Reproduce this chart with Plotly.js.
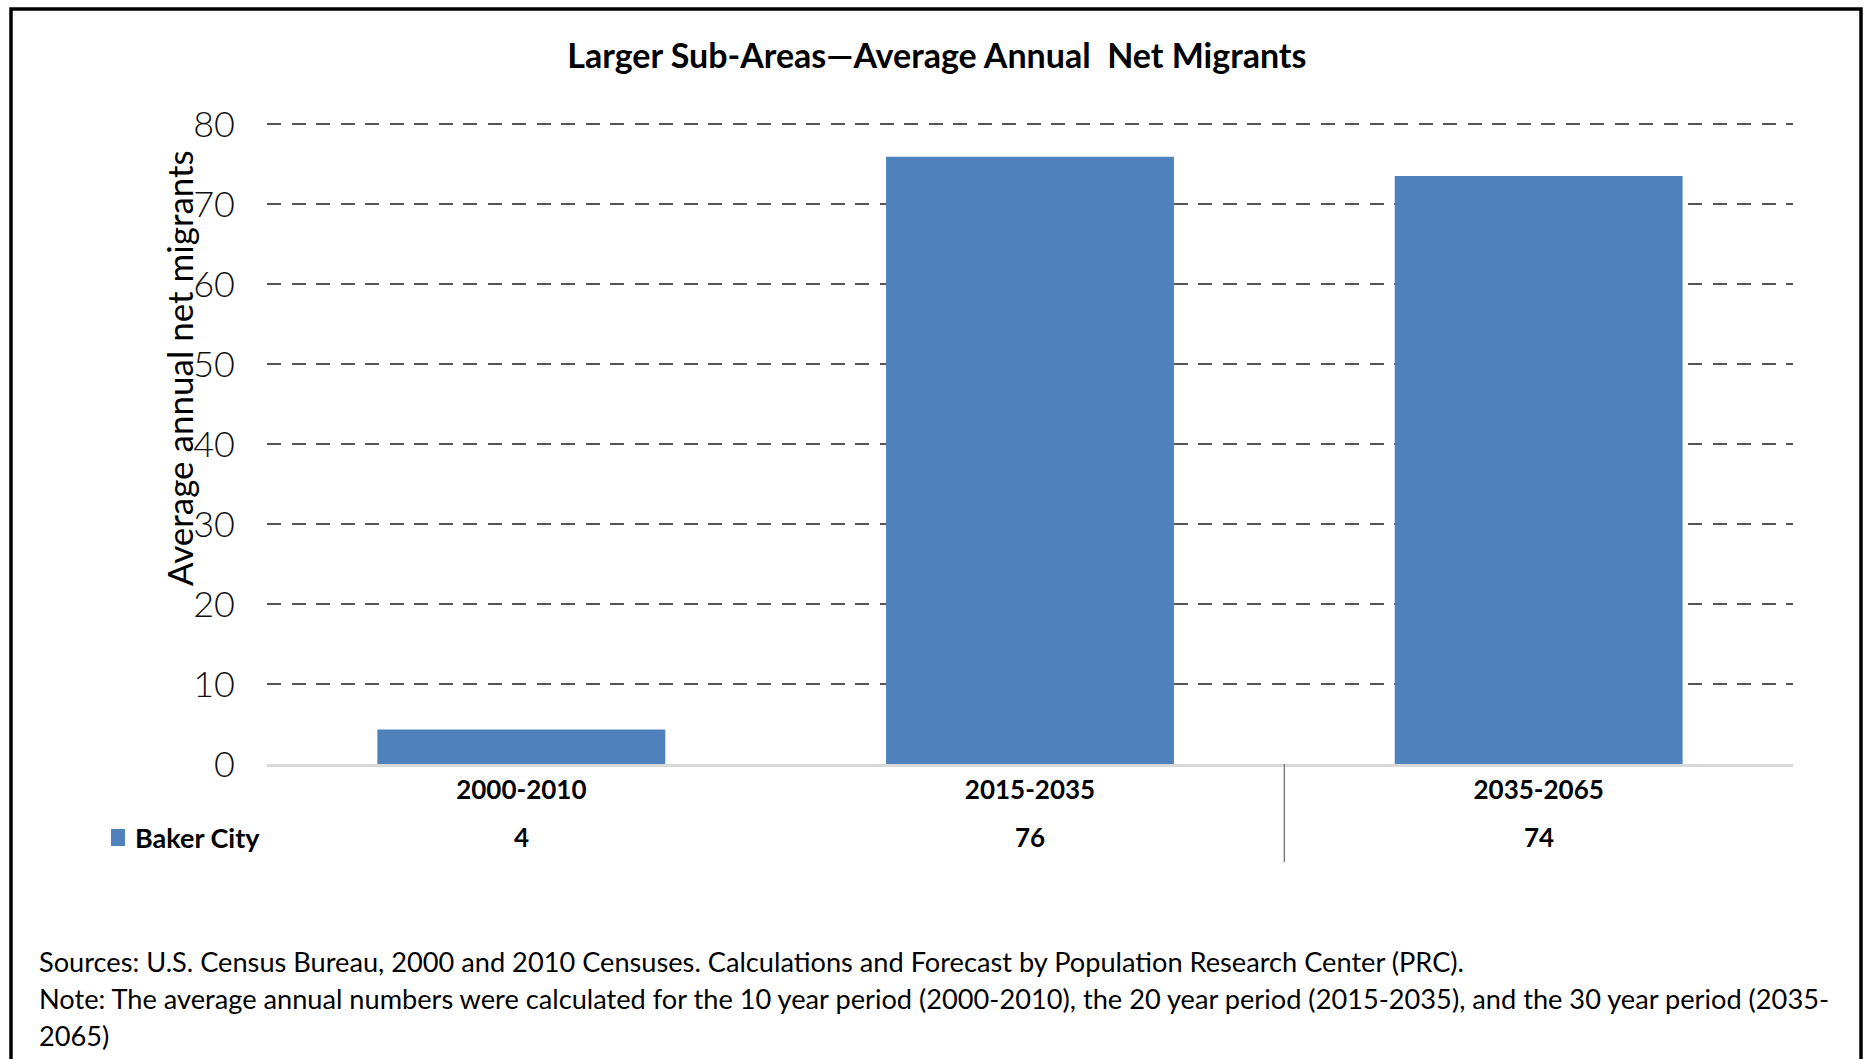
<!DOCTYPE html>
<html>
<head>
<meta charset="utf-8">
<script src="https://cdn.plot.ly/plotly-3.0.1.min.js"></script>
<style>
  html, body { margin: 0; padding: 0; background: #fff; }
  #chart { width: 1864px; height: 1059px; }
</style>
</head>
<body>
<div id="chart"></div>
<script>
// ---- Data ----
const categories = ["2000-2010", "2015-2035", "2035-2065"];
const seriesName = "Baker City";
const netMigrants = [4.3, 75.9, 73.5];
const yTickValues = [0, 10, 20, 30, 40, 50, 60, 70, 80];
const chartTitle = "Larger Sub-Areas\u2014Average Annual&nbsp; Net Migrants";
const yAxisTitle = "Average annual net migrants";
const sourceLine = "Sources: U.S. Census Bureau, 2000 and 2010 Censuses. Calculations and Forecast by Population Research Center (PRC).";
const noteLine1 = "Note: The average annual numbers were calculated for the 10 year period (2000-2010), the 20 year period (2015-2035), and the 30 year period (2035-";
const noteLine2 = "2065)";

// ---- Geometry (pixels) ----
const W = 1864, H = 1059;
const M = { l: 267, r: 71, t: 122, b: 295 };
const PW = W - M.l - M.r, PH = H - M.t - M.b;
const px = x => (x - M.l) / PW;          // pixel x -> paper x
const py = y => (H - M.b - y) / PH;      // pixel y -> paper y

const FONT = "Lato, 'Open Sans', 'Noto Sans', sans-serif";
const BLUE = "#4F81BD";

const annotations = [];
// y-axis title
annotations.push({
  xref: "paper", yref: "paper", x: px(179), y: py(368),
  text: yAxisTitle, textangle: -90, showarrow: false,
  xanchor: "center", yanchor: "middle",
  font: { family: FONT, size: 35, color: "#000" }
});
// data table values row
categories.forEach((c, i) => {
  annotations.push({
    xref: "x", yref: "paper", x: c, y: py(837),
    text: String(Math.round(netMigrants[i])), showarrow: false,
    xanchor: "center", yanchor: "middle",
    font: { family: FONT, size: 26, color: "#000", weight: 700 }
  });
});
// legend key text
annotations.push({
  xref: "paper", yref: "paper", x: px(133), y: py(837),
  text: seriesName, showarrow: false, xanchor: "left", yanchor: "middle",
  font: { family: FONT, size: 27, color: "#000", weight: 700 }
});
// notes
[[sourceLine, 961], [noteLine1, 999], [noteLine2, 1035]].forEach(([t, y]) => {
  annotations.push({
    xref: "paper", yref: "paper", x: px(37), y: py(y),
    text: t, showarrow: false, xanchor: "left", yanchor: "middle",
    font: { family: FONT, size: 27.2, color: "#000" }
  });
});

const shapes = [
  // outer frame (no bottom edge visible)
  { type: "path", xref: "paper", yref: "paper",
    path: `M ${px(11)} ${py(1075)} L ${px(11)} ${py(9)} L ${px(1861)} ${py(9)} L ${px(1861)} ${py(1075)}`,
    line: { color: "#000", width: 3.5 } },
  // legend key
  { type: "rect", xref: "paper", yref: "paper",
    x0: px(111), x1: px(125), y0: py(846), y1: py(829),
    fillcolor: BLUE, line: { width: 0 } },
  // table separator between 2nd and 3rd categories
  { type: "line", xref: "x", yref: "paper",
    x0: 1.5, x1: 1.5, y0: 0, y1: py(862),
    line: { color: "#808080", width: 1.5 } }
];

const trace = {
  type: "bar",
  x: categories,
  y: netMigrants,
  name: seriesName,
  marker: { color: BLUE },
  hoverinfo: "x+y"
};

const layout = {
  width: W, height: H,
  margin: M,
  paper_bgcolor: "#fff", plot_bgcolor: "#fff",
  showlegend: false,
  bargap: 0.434,
  title: {
    text: chartTitle, xref: "container", x: 0.5026, xanchor: "center",
    yref: "container", y: 1 - 56 / H, yanchor: "middle",
    font: { family: FONT, size: 34, color: "#000", weight: 700 }
  },
  xaxis: {
    type: "category",
    showline: true, linecolor: "#D9D9D9", linewidth: 2.5,
    showgrid: false, zeroline: false, ticks: "",
    ticklabelstandoff: 1,
    tickfont: { family: FONT, size: 26, color: "#000", weight: 700 }
  },
  yaxis: {
    range: [0, 80.25], tickvals: yTickValues, ticktext: yTickValues.map(String),
    showgrid: true, gridcolor: "#555555", gridwidth: 2.8, griddash: "14px,10.5px",
    zeroline: false, showline: false, ticks: "",
    ticklabelstandoff: 31,
    tickfont: { family: FONT, size: 36, color: "#111", weight: 300 }
  },
  annotations: annotations,
  shapes: shapes
};

Plotly.newPlot("chart", [trace], layout, { displayModeBar: false, staticPlot: true });
</script>
</body>
</html>
